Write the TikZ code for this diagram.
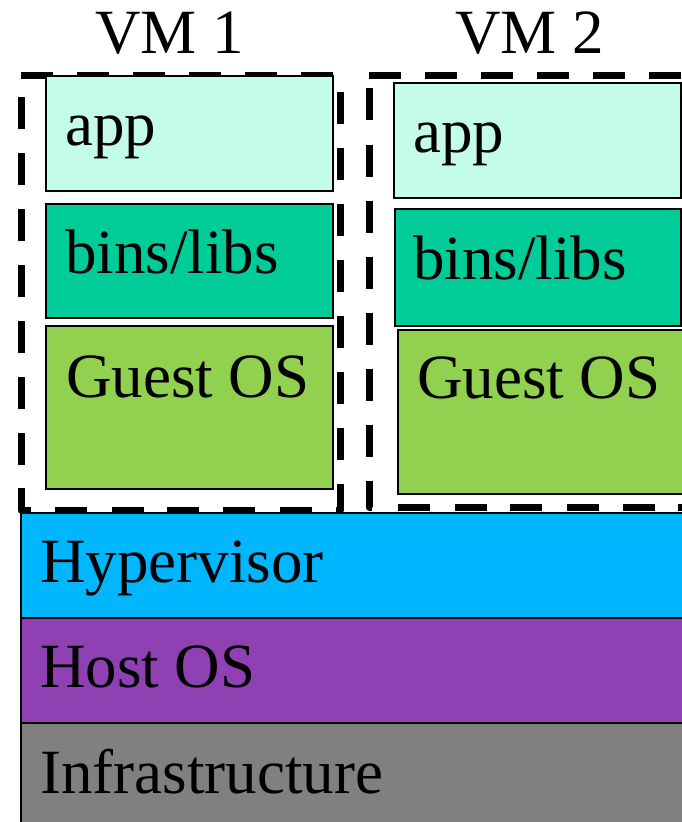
\documentclass[tikz,border=0pt]{standalone}
\usepackage{fontspec}
\setmainfont{Liberation Serif}
\definecolor{appc}{RGB}{196,252,236}
\definecolor{binc}{RGB}{0,204,153}
\definecolor{guestc}{RGB}{146,208,80}
\definecolor{hypc}{RGB}{0,183,255}
\definecolor{hostc}{RGB}{143,65,180}
\definecolor{infc}{RGB}{128,128,128}
\tikzset{
  layer/.style={draw=black, line width=1.5pt, inner sep=0pt, anchor=north west},
  lbl/.style={anchor=base west, inner sep=0pt, font=\fontsize{63}{70}\selectfont},
  vdash/.style={draw=black, line width=7pt, line join=round},
}
\begin{document}
\begin{tikzpicture}[x=1pt,y=-1pt]
\useasboundingbox (0,0) rectangle (681,822);
% base layers
\node[layer, fill=hypc, minimum width=670pt, minimum height=105pt] (hyp) at (20,512) {};
\node[layer, fill=hostc, minimum width=670pt, minimum height=105pt] (host) at (20,617) {};
\node[layer, fill=infc, minimum width=670pt, minimum height=108pt] (infra) at (20,722) {};
% dashed border of VM 1
\foreach \a in {21,77,133,189,245,301} \draw[vdash] (\a,75) -- (\a+32,75);
\foreach \a in {92,148,204,260,316,372,428} \draw[vdash] (340,\a) -- (340,\a+32);
\draw[vdash] (340,484) -- (340,510) -- (336,510);
\foreach \a in {55,112,167,223,280} \draw[vdash] (\a,510) -- (\a+32,510);
\draw[vdash] (31,510) -- (21,510) -- (21,488);
\foreach \a in {97,153,209,265,321,377,433} \draw[vdash] (21,\a) -- (21,\a+32);
% dashed border of VM 2
\foreach \a in {369,425,481,537,593,649} \draw[vdash] (\a,75) -- (\a+32,75);
\foreach \a in {88,145,201,257,313,369,425} \draw[vdash] (369,\a) -- (369,\a+32);
\draw[vdash] (369,481) -- (369,507) -- (372,507);
\foreach \a in {398,455,510,567,623,678} \draw[vdash] (\a,507) -- (\a+32,507);
% VM 1 stack
\node[layer, fill=appc, minimum width=287pt, minimum height=115pt] (app1) at (45,75) {};
\node[layer, fill=binc, minimum width=287pt, minimum height=114pt] (bin1) at (45,203) {};
\node[layer, fill=guestc, minimum width=287pt, minimum height=163pt] (guest1) at (45,325) {};
% VM 2 stack
\node[layer, fill=appc, minimum width=287pt, minimum height=115pt] (app2) at (393,82) {};
\node[layer, fill=binc, minimum width=286pt, minimum height=117pt] (bin2) at (394,208) {};
\node[layer, fill=guestc, minimum width=300pt, minimum height=164pt] (guest2) at (397,329) {};
% labels
\node[lbl] (vm1) at (95,53) {VM 1};
\node[lbl] (vm2) at (455,53) {VM 2};
\node[lbl] (tapp1) at (65,145) {app};
\node[lbl] (tbin1) at (65,273) {bins/libs};
\node[lbl] (tguest1) at (66,397) {Guest OS};
\node[lbl] (tapp2) at (413,152) {app};
\node[lbl] (tbin2) at (413,279) {bins/libs};
\node[lbl] (tguest2) at (417,398) {Guest OS};
\node[lbl] (thyp) at (40,582) {Hypervisor};
\node[lbl] (thost) at (40,687) {Host OS};
\node[lbl] (tinfra) at (40,793) {Infrastructure};
\end{tikzpicture}
\end{document}
